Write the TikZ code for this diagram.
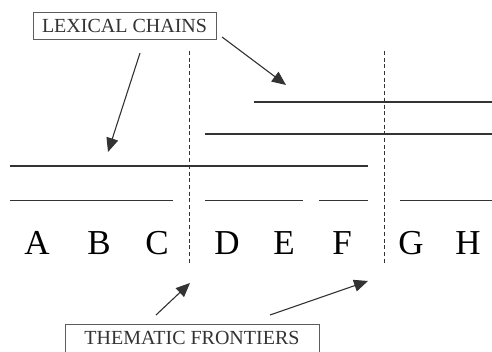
\documentclass[tikz,border=0pt]{standalone}
\usepackage{fontspec}
\setmainfont{Liberation Serif}
\usepackage{xcolor}
\usetikzlibrary{arrows.meta}
\definecolor{ink}{HTML}{333333}
\tikzset{
	chain/.style={draw=ink, line width=1.4pt},
	frontier/.style={draw=ink, line width=1.5pt, dash pattern=on 4pt off 2.7pt},
	pointer/.style={draw=ink, line width=1.1pt, -{Triangle[length=14pt,width=12pt]}},
	caption/.style={draw=ink!80, line width=0.9pt, fill=white, text=ink,
			font=\fontsize{20}{24}\selectfont, inner xsep=9pt, minimum height=27pt},
	segment/.style={text=black, font=\fontsize{35}{40}\selectfont, anchor=base}
}

\begin{document}
\begin{tikzpicture}[x=1pt, y=-1pt]
	\clip (0,0) rectangle (492,352);
	% labels
	\node [caption] (lexical) at (124.5,25.5) {LEXICAL CHAINS};
	\node [caption, minimum width=254pt, minimum height=28pt] (thematic) at (192,338) {THEMATIC FRONTIERS};
	% chains
	\draw [chain]	(254,102) -- (492,102);
	\draw [chain]	(205,134) -- (492,134);
	\draw [chain]	(10,166) -- (368,166);
	\draw [chain]	(10,200.5) -- (173,200.5)
					(205,200.5) -- (303,200.5)
					(319,200.5) -- (368,200.5)
					(400,200.5) -- (492,200.5);
	% frontiers
	\draw [frontier] (189.5,51) -- (189.5,265);
	\draw [frontier] (384.5,51) -- (384.5,265);
	% segments
	\node [segment] (A) at (37,255) {A};
	\node [segment] (B) at (99,255) {B};
	\node [segment] (C) at (157,255) {C};
	\node [segment] (D) at (227,255) {D};
	\node [segment] (E) at (284,255) {E};
	\node [segment] (F) at (342,255) {F};
	\node [segment] (G) at (411,255) {G};
	\node [segment] (H) at (468,255) {H};
	% pointers
	\coordinate (lexfrom1) at (140,53);
	\coordinate (lexto1) at (108,152);
	\coordinate (lexfrom2) at (222,37);
	\coordinate (lexto2) at (286,85);
	\coordinate (thefrom1) at (156,315);
	\coordinate (theto1) at (190,283);
	\coordinate (thefrom2) at (270,315);
	\coordinate (theto2) at (368,281);
	\draw [pointer] (lexfrom1) to (lexto1);
	\draw [pointer] (lexfrom2) to (lexto2);
	\draw [pointer] (thefrom1) to (theto1);
	\draw [pointer] (thefrom2) to (theto2);
\end{tikzpicture}
\end{document}
